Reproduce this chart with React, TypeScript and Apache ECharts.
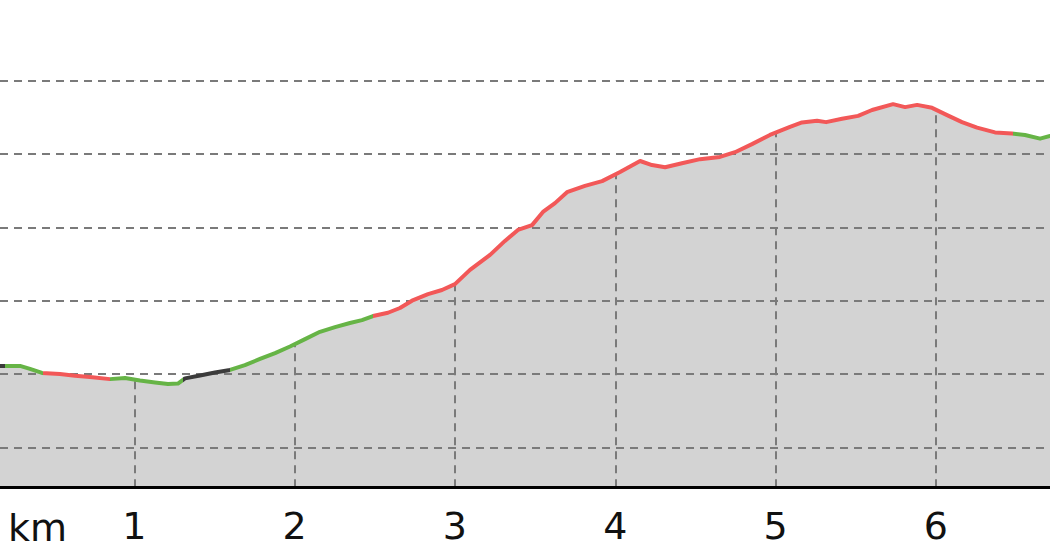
import React, { useEffect, useRef } from "react";
import * as echarts from "echarts";

// distance along the route (km) and elevation (m) read from the profile
const kmValues = [
  0.162, 0.287, 0.349, 0.424, 0.536, 0.63, 0.723, 0.848, 0.942, 1.035, 1.129, 1.21, 1.272,
  1.316, 1.41, 1.503, 1.597, 1.69, 1.784, 1.878, 1.971, 2.065, 2.158, 2.252, 2.345, 2.42,
  2.489, 2.582, 2.657, 2.732, 2.832, 2.919, 3.0, 3.094, 3.219, 3.312, 3.393, 3.481, 3.549,
  3.624, 3.699, 3.811, 3.918, 4.03, 4.155, 4.229, 4.311, 4.416, 4.529, 4.653, 4.747, 4.853,
  4.965, 5.09, 5.165, 5.259, 5.315, 5.415, 5.515, 5.602, 5.733, 5.808, 5.883, 5.976, 6.07,
  6.163, 6.257, 6.369, 6.475, 6.556, 6.65, 6.712,
];
const elevations = [
  222.2, 222.2, 221.4, 220.3, 220.0, 219.5, 219.2, 218.6, 218.9, 218.2, 217.7, 217.3, 217.4,
  218.8, 219.6, 220.4, 221.1, 222.4, 224.1, 225.7, 227.5, 229.5, 231.5, 232.8, 233.9, 234.7,
  235.8, 236.7, 238.0, 240.0, 241.8, 242.9, 244.5, 248.4, 252.5, 256.3, 259.3, 260.6, 264.2,
  266.6, 269.6, 271.3, 272.6, 275.1, 278.1, 277.0, 276.4, 277.5, 278.6, 279.2, 280.5, 282.7,
  285.2, 287.4, 288.6, 289.1, 288.7, 289.6, 290.4, 292.0, 293.6, 292.8, 293.4, 292.6, 290.6,
  288.7, 287.2, 285.9, 285.6, 285.2, 284.2, 284.9,
];

// colour sections of the profile line (km boundaries)
const segmentBreaks = [0.162, 0.193, 0.43, 0.848, 1.304, 1.597, 2.489, 6.481, 6.712];
const segmentColors = [
  "#3b3b3b", "#66b446", "#f25858", "#66b446", "#3b3b3b", "#66b446", "#f25858", "#66b446",
];

const xTicks = [1, 2, 3, 4, 5, 6];
const gridValues = [200, 220, 240, 260, 280, 300];
const xMin = 0.162;
const xMax = 6.712;
const yMin = 189.12;
const yMax = 300;

const FONT = "DejaVu Sans";
const GRID_LINE = { color: "#7a7a7a", width: 2, type: [8, 6] as number[] };

export default function App() {
  const ref = useRef<HTMLDivElement>(null);

  useEffect(() => {
    if (!ref.current) return;
    const chart = echarts.init(ref.current, null, { renderer: "svg" });
    const data = kmValues.map((k, i) => [k, elevations[i]]);

    const pieces = segmentColors.map((c, i) => {
      const p: any = { gte: segmentBreaks[i], color: c };
      if (i === segmentColors.length - 1) p.lte = segmentBreaks[i + 1];
      else p.lt = segmentBreaks[i + 1];
      return p;
    });

    chart.setOption({
      animation: false,
      backgroundColor: "#ffffff",
      grid: { left: 0, right: 0, top: 80.7, bottom: 72.8, containLabel: false },
      xAxis: {
        type: "value",
        min: xMin,
        max: xMax,
        splitNumber: 6,
        z: 6,
        splitLine: { show: false },
        axisTick: { show: false },
        axisLine: { lineStyle: { color: "#000000", width: 3 } },
        axisLabel: {
          showMinLabel: false,
          showMaxLabel: false,
          margin: 20,
          fontSize: 38,
          fontFamily: FONT,
          color: "#111111",
          formatter: (v: number) =>
            xTicks.indexOf(Math.round(v)) >= 0 && Math.abs(v - Math.round(v)) < 1e-6
              ? String(Math.round(v))
              : "",
        },
      },
      yAxis: {
        type: "value",
        min: yMin,
        max: yMax,
        show: false,
        splitLine: { show: false },
      },
      visualMap: {
        type: "piecewise",
        show: false,
        dimension: 0,
        seriesIndex: 2,
        pieces,
      },
      series: [
        {
          type: "line",
          data,
          symbol: "none",
          silent: true,
          z: 1,
          lineStyle: { opacity: 0 },
          areaStyle: { color: "#d3d3d3", opacity: 1, origin: "start" },
          markLine: {
            silent: true,
            symbol: "none",
            z: 2,
            label: { show: false },
            emphasis: { disabled: true },
            lineStyle: GRID_LINE,
            data: xTicks.map((v) => ({ xAxis: v })),
          },
        },
        {
          type: "line",
          data,
          symbol: "none",
          silent: true,
          z: 3,
          lineStyle: { opacity: 0 },
          areaStyle: { color: "#ffffff", opacity: 1, origin: "end" },
          markLine: {
            silent: true,
            symbol: "none",
            z: 4,
            label: { show: false },
            emphasis: { disabled: true },
            lineStyle: GRID_LINE,
            data: gridValues.map((v) => ({ yAxis: v })),
          },
        },
        {
          type: "line",
          data,
          symbol: "none",
          silent: true,
          z: 5,
          lineStyle: { width: 4, join: "round", cap: "round" },
        },
      ],
      graphic: [
        {
          type: "text",
          left: 8,
          top: 509,
          z: 10,
          style: {
            text: "km",
            font: `38px "${FONT}"`,
            fill: "#111111",
          },
        },
      ],
    });

    return () => chart.dispose();
  }, []);

  return (
    <div
      ref={ref}
      style={{ position: "absolute", left: 0, top: 0, width: 1050, height: 560 }}
    />
  );
}
